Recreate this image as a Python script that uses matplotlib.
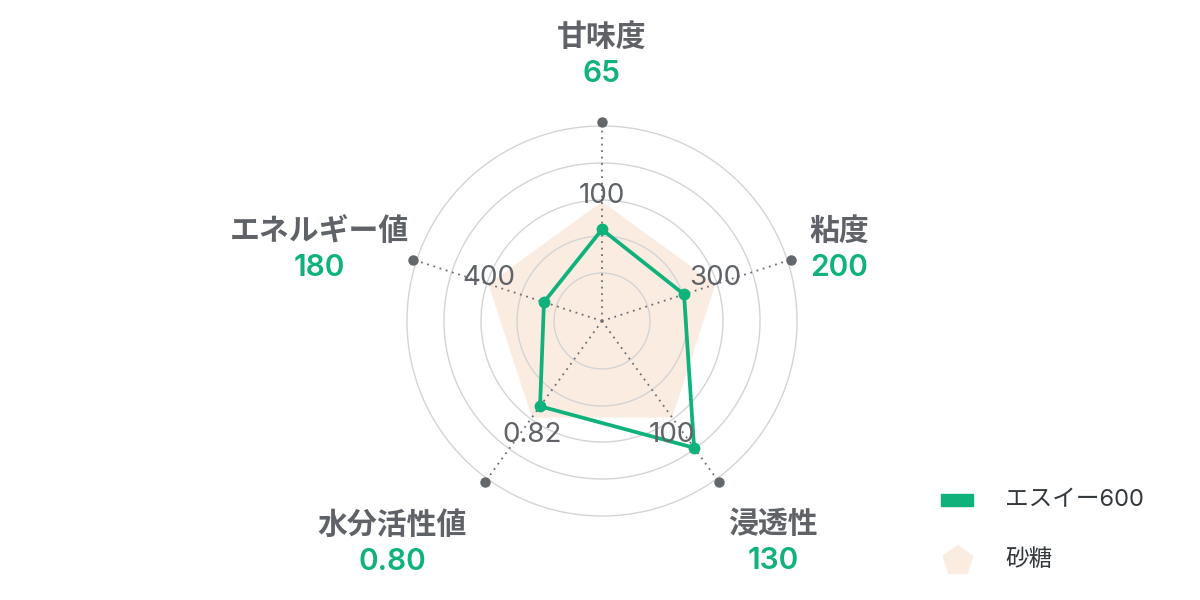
import matplotlib.pyplot as plt
import numpy as np
from matplotlib.patches import Rectangle, RegularPolygon

plt.rcParams['font.family'] = ['Inter', 'Noto Sans CJK JP', 'DejaVu Sans']

# データ
categories = ['甘味度', '粘度', '浸透性', '水分活性値', 'エネルギー値']
es600 = [65, 200, 130, 0.80, 180]
sugar = [100, 300, 100, 0.82, 400]
es600_labels = ['65', '200', '130', '0.80', '180']
sugar_labels = ['100', '300', '100', '0.82', '400']
series_names = ['エスイー600', '砂糖']

# 各軸のスケール
axis_min = [-50, -60, 4, 0.648, -50]
axis_max = [200, 540, 164, 0.935, 700]

GREEN = '#0fb27a'
PEACH = '#fbece2'
GRAY = '#5f6368'
CJK = ['Noto Sans CJK JP', 'DejaVu Sans']

def norm(vals):
    return [(v - lo) / (hi - lo) for v, lo, hi in zip(vals, axis_min, axis_max)]

n = len(categories)
theta = np.arange(n) * 2 * np.pi / n

fig = plt.figure(figsize=(12, 6), dpi=100)
cx, cy, R = 602, 321, 199
ax = fig.add_axes([(cx - R) / 1200, (600 - cy - R) / 600, 2 * R / 1200, 2 * R / 600],
                  projection='polar')
ax.set_theta_zero_location('N')
ax.set_theta_direction(-1)
ax.set_ylim(0, 1)
ax.grid(False)
ax.set_xticks([])
ax.set_yticks([])
ax.spines['polar'].set_visible(False)
ax.patch.set_alpha(0)

# 同心円
tt = np.linspace(0, 2 * np.pi, 400)
for r in [0.241, 0.427, 0.608, 0.794, 0.98]:
    ax.plot(tt, np.full_like(tt, r), color='#d4d4d4', lw=1, zorder=2)

# 砂糖
th_closed = np.append(theta, theta[0])
s = norm(sugar)
ax.fill(th_closed, s + [s[0]], color=PEACH, lw=0, zorder=1)

# 軸線
for t in theta:
    ax.plot([t, t], [0, 1], color='#6b6e72', lw=1.3, ls=(0, (1, 2.6)), zorder=3)
ax.plot(theta, np.ones(n), 'o', color='#63676b', ms=6.5, clip_on=False, zorder=4)

# エスイー600
g = norm(es600)
ax.plot(th_closed, g + [g[0]], color=GREEN, lw=2.7, zorder=5)
ax.plot(theta, g, 'o', color=GREEN, ms=7.5, zorder=6, clip_on=False)

# 砂糖の値ラベル
for t, r, lab in zip(theta, s, sugar_labels):
    if np.cos(t) > 0:
        va, dy = 'baseline', -1
    else:
        va, dy = 'top', -3
    ax.annotate(lab, xy=(t, r), xytext=(0, dy), textcoords='offset points',
                ha='center', va=va, fontsize=20, color=GRAY, zorder=7)

# 外側ラベル
ov = fig.add_axes([0, 0, 1, 1])
ov.set_xlim(0, 1200)
ov.set_ylim(600, 0)
ov.axis('off')
ov.patch.set_alpha(0)

name_pos = [(602, 37), (839, 231), (773, 524), (392, 525), (319, 231)]
for (x, y), name, val in zip(name_pos, categories, es600_labels):
    ov.text(x, y, name, ha='center', va='center', fontsize=21.5, fontweight='bold',
            color=GRAY, family=CJK)
    ov.text(x, y + 37, val, ha='center', va='center', fontsize=21.5, fontweight='semibold', color=GREEN)

# 凡例
ov.add_patch(Rectangle((941, 494), 32, 12, color=GREEN))
ov.add_patch(RegularPolygon((958, 561), numVertices=5, radius=15.5, orientation=np.pi, color=PEACH))
ov.text(1005, 500, series_names[0], ha='left', va='center', fontsize=17, color='#33383d')
ov.text(1005, 560, series_names[1], ha='left', va='center', fontsize=17, color='#33383d')

fig.savefig('out.png', dpi=100, facecolor='white')
